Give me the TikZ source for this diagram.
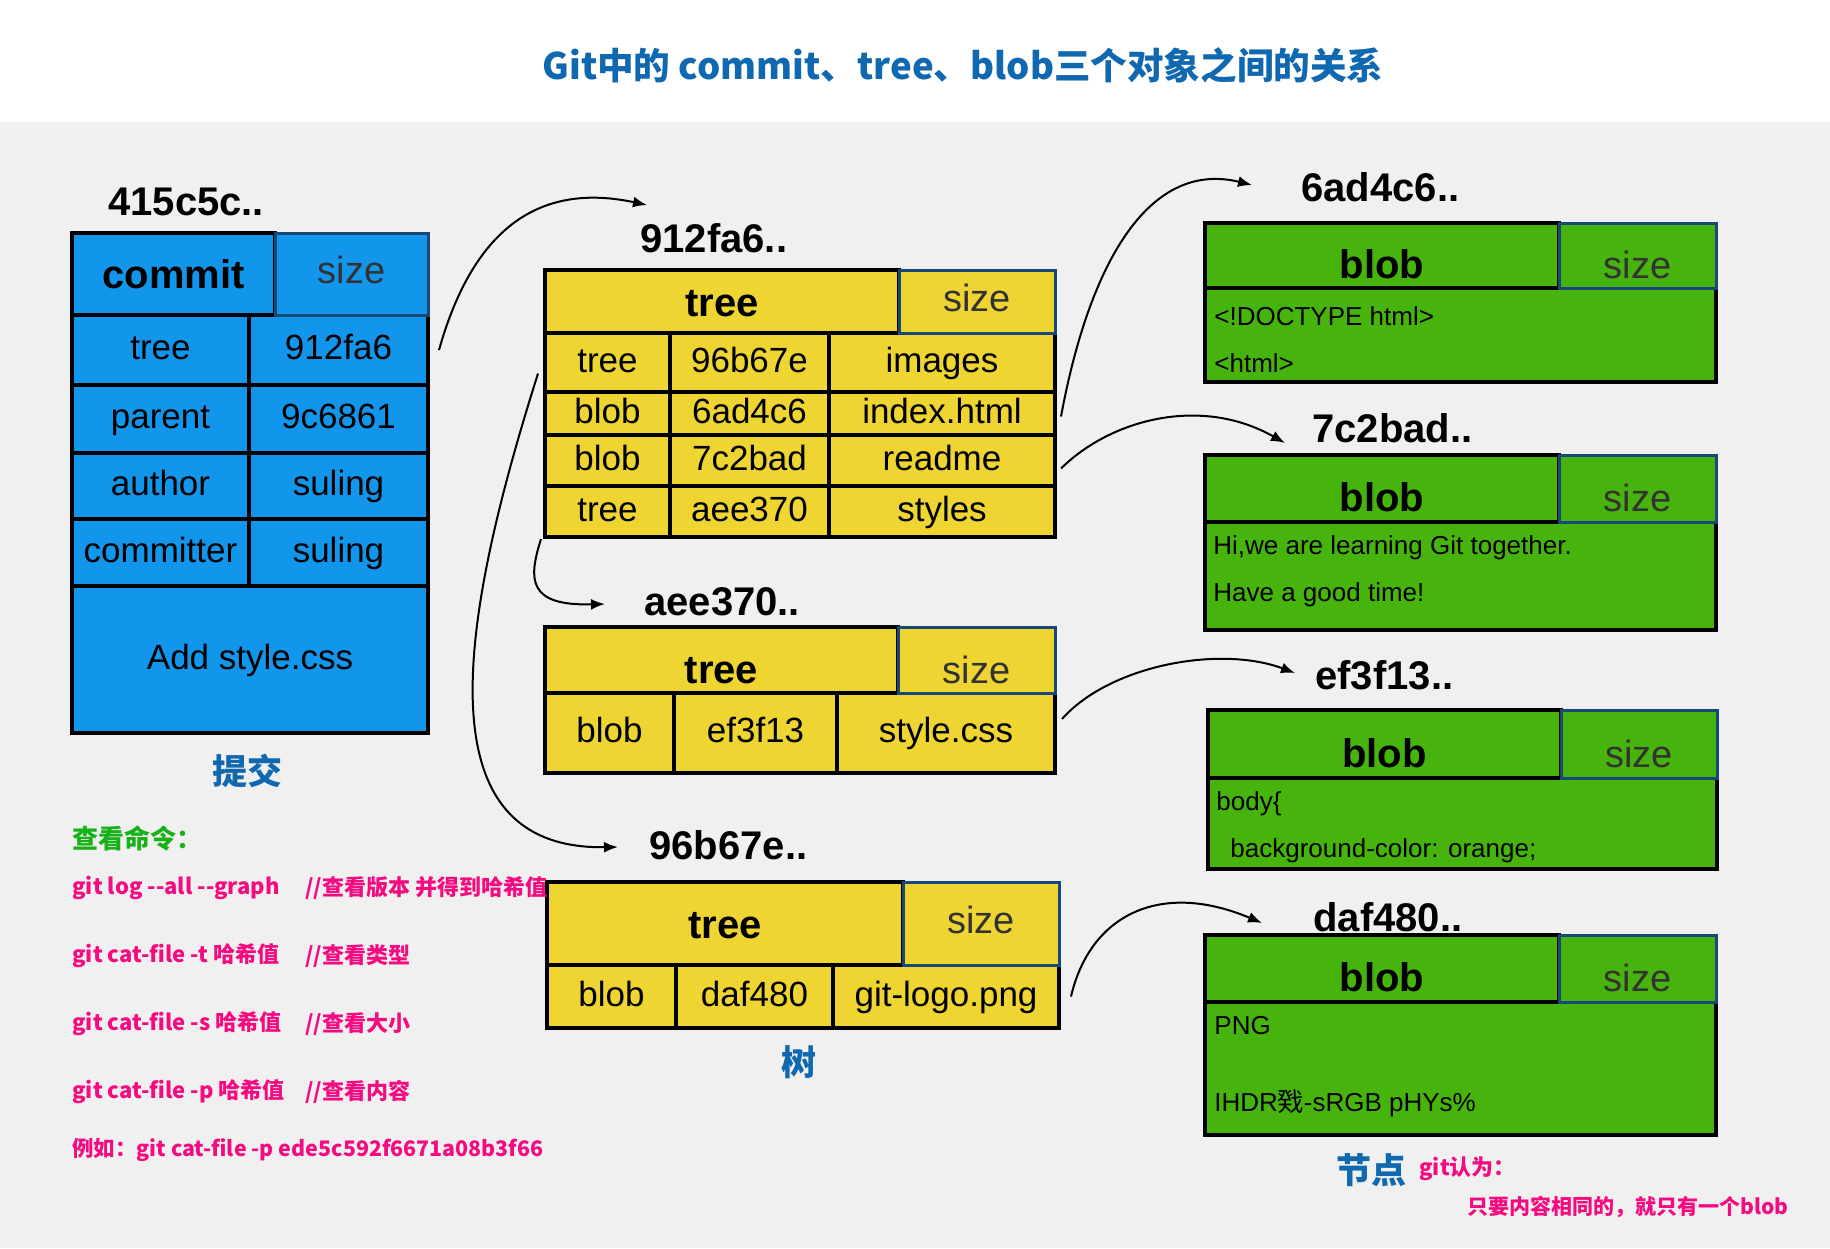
\documentclass[tikz,border=0pt]{standalone}
\usepackage{fontspec}
\setmainfont{Liberation Sans}
\newfontfamily\cjk{Noto Sans CJK SC}
\usetikzlibrary{arrows.meta,positioning,calc}

\definecolor{commitblue}{RGB}{18,150,236}
\definecolor{treeyellow}{RGB}{238,213,50}
\definecolor{blobgreen}{RGB}{70,180,12}
\definecolor{sizeblue}{RGB}{24,72,120}
\definecolor{sizegray}{RGB}{50,50,50}
\definecolor{bggray}{RGB}{240,240,240}
\definecolor{titleblue}{RGB}{16,104,176}
\definecolor{cmdpink}{RGB}{245,10,128}
\definecolor{cmdgreen}{RGB}{24,178,24}

\newcommand\twodash{-\kern0pt-}

\begin{document}
\begin{tikzpicture}[
    x=0.5pt, y=-0.5pt,
    cellspan/.style n args={4}{minimum width={(#3-#1)*0.5pt}, minimum height={(#4-#2)*0.5pt}, at={({(#1+#3)/2},{(#2+#4)/2})}},
    cell/.style={draw=black, line width=2pt, inner sep=0pt, text height=13pt, text depth=3.5pt, font=\fontsize{17.5}{20}\selectfont},
    ccell/.style={cell, fill=commitblue},
    tcell/.style={cell, fill=treeyellow},
    bcell/.style={cell, fill=blobgreen},
    head/.style={font=\bfseries\fontsize{20}{24}\selectfont, text height=14.5pt, text depth=0pt},
    sizecell/.style={draw=sizeblue, line width=1.5pt, text=sizegray, font=\fontsize{19}{22}\selectfont},
    low/.style={text height=23pt, text depth=0pt},
    hash/.style={font=\bfseries\fontsize{20}{24}\selectfont, inner sep=0pt, anchor=west},
    content/.style={font=\fontsize{13}{15}\selectfont, inner sep=0pt, anchor=west},
    cmd/.style={font=\cjk\bfseries\fontsize{11}{13}\selectfont, text=cmdpink, inner sep=0pt, anchor=west},
    part/.style={font=\cjk\bfseries\fontsize{17.5}{20}\selectfont, text=titleblue, inner sep=0pt},
    arr/.style={-{Latex[length=7pt,width=5.5pt]}, line width=1pt}
]
\useasboundingbox (0,0) rectangle (1830,1248);
\fill[white] (0,0) rectangle (1830,1248);
\fill[bggray] (0,122) rectangle (1830,1248);

\node[font=\cjk\bfseries\fontsize{18.3}{22}\selectfont, text=titleblue] (title) at (963,65) {Git中的 commit、tree、blob三个对象之间的关系};

% commit
\node[hash] (l415) at (108,202) {415c5c..};
\node[ccell, head, cellspan={72}{233}{275}{315}] (chead) {commit};
\foreach \k/\f/\v/\ya/\yb in {1/tree/912fa6/315/385, 2/parent/9c6861/385/453, 3/author/suling/453/519, 4/committer/suling/519/586} {
  \node[ccell, cellspan={72}{\ya}{249}{\yb}] (ck\k) {\f};
  \node[ccell, cellspan={249}{\ya}{428}{\yb}] (cv\k) {\v};
}
\node[ccell, cellspan={72}{586}{428}{733}] (cmsg) {Add style.css};
\node[ccell, sizecell, cellspan={275}{233}{428}{315}] (csize) {size};
\node[part] (pcommit) at (247,771) {提交};

% tree 912fa6
\node[hash] (l912) at (640,238) {912fa6..};
\node[tcell, head, cellspan={545}{270}{899}{333}] (t1head) {tree};
\foreach \k/\a/\b/\c/\ya/\yb in {1/tree/96b67e/images/333/392, 2/blob/6ad4c6/index.html/392/435, 3/blob/7c2bad/readme/435/486, 4/tree/aee370/styles/486/537} {
  \node[tcell, cellspan={545}{\ya}{670}{\yb}] (t1a\k) {\a};
  \node[tcell, cellspan={670}{\ya}{829}{\yb}] (t1b\k) {\b};
  \node[tcell, cellspan={829}{\ya}{1055}{\yb}] (t1c\k) {\c};
}
\node[tcell, sizecell, cellspan={899}{270}{1055}{333}] (t1size) {size};

% tree aee370
\node[hash] (laee) at (644,602) {aee370..};
\node[tcell, head, low, cellspan={545}{627}{898}{693}] (t2head) {tree};
\node[tcell, cellspan={545}{693}{674}{773}] (t2a) {blob};
\node[tcell, cellspan={674}{693}{837}{773}] (t2b) {ef3f13};
\node[tcell, cellspan={837}{693}{1055}{773}] (t2c) {style.css};
\node[tcell, sizecell, low, cellspan={898}{627}{1055}{693}] (t2size) {size};

% tree 96b67e
\node[hash] (l96b) at (649,845) {96b67e..};
\node[tcell, head, cellspan={547}{882}{903}{965}] (t3head) {tree};
\node[tcell, cellspan={547}{965}{676}{1028}] (t3a) {blob};
\node[tcell, cellspan={676}{965}{833}{1028}] (t3b) {daf480};
\node[tcell, cellspan={833}{965}{1059}{1028}] (t3c) {git-logo.png};
\node[tcell, sizecell, cellspan={903}{882}{1059}{965}] (t3size) {size};
\node[part] (ptree) at (799,1062) {树};

% blobs
\foreach \n/\h/\xa/\xs/\xb/\ya/\yb/\yc/\lx/\ly in {
    6ad/6ad4c6/1205/1559/1716/223/288/382/1301/187,
    7c2/7c2bad/1205/1559/1716/455/522/630/1312/428,
    ef3/ef3f13/1208/1561/1717/710/778/869/1315/675,
    daf/daf480/1205/1559/1716/935/1002/1135/1313/917} {
  \node[hash] (l\n) at (\lx,\ly) {\h..};
  \node[bcell, head, low, cellspan={\xa}{\ya}{\xs}{\yb}] (bh\n) {blob};
  \node[bcell, cellspan={\xa}{\yb}{\xb}{\yc}] (bc\n) {};
  \node[bcell, sizecell, low, cellspan={\xs}{\ya}{\xb}{\yb}] (bs\n) {size};
}
\node[content] (bt6ad1) at (1214,316) {<!DOCTYPE html>};
\node[content] (bt6ad2) at (1214,363) {<html>};
\node[content] (bt7c21) at (1213,548) {Hi,we are learning Git together.};
\node[content] (bt7c22) at (1213,595) {Have a good time!};
\node[content] (btef31) at (1216,804) {body\{};
\node[content] (btef32) at (1230,851) {background-color: orange;};
\node[content] (btdaf1) at (1214,1026) {PNG};
\node[content] (btdaf2) at (1214,1103) {IHDR{\cjk 戣}-sRGB pHYs\%};
\node[part] (pnode) at (1371,1170) {节点};
\node[cmd] (gitsay) at (1419,1169) {git认为：};
\node[cmd, font=\cjk\bfseries\fontsize{10.5}{13}\selectfont] (gitrule) at (1467,1207) {只要内容相同的，就只有一个blob};

% commands
\node[cmd, font=\cjk\bfseries\fontsize{13}{15}\selectfont, text=cmdgreen] (cmdhead) at (72,838) {查看命令：};
\foreach \k/\c/\m/\y in {1/git log \twodash all \twodash graph/查看版本 并得到哈希值/888, 2/git cat-file -t 哈希值/查看类型/956, 3/git cat-file -s 哈希值/查看大小/1024, 4/git cat-file -p 哈希值/查看内容/1092} {
  \node[cmd] (cmd\k) at (72,\y) {\c};
  \node[cmd] (note\k) at (305,\y) {//\m};
}
\node[cmd, font=\cjk\bfseries\fontsize{10.7}{13}\selectfont] (cmdeg) at (72,1150) {例如：git cat-file -p ede5c592f6671a08b3f66};

% links
\draw[arr] ($(cv1.east)+(9,0)$) .. controls (470,240) and (530,180) .. ($(l912.west)+(7,-33)$);
\draw[arr] ($(t1c2.east)+(4,3)$) .. controls (1090,260) and (1150,160) .. ($(l6ad.west)+(-49,-2)$);
\draw[arr] ($(t1c3.east)+(4,8)$) .. controls (1110,420) and (1200,395) .. ($(l7c2.west)+(-27,15)$);
\draw[arr] ($(t1a4.south west)+(-2,0)$) .. controls (528,580) and (528,606) .. ($(laee.west)+(-39,2)$);
\draw[arr] ($(t1a1.west)+(-5,11)$) .. controls (460,620) and (420,850) .. ($(l96b.west)+(-31,2)$);
\draw[arr] ($(t2c.east)+(5,-14)$) .. controls (1110,665) and (1220,645) .. ($(lef3.west)+(-20,-2)$);
\draw[arr] ($(t3c.east)+(10,0)$) .. controls (1090,915) and (1160,880) .. ($(ldaf.west)+(-51,6)$);
\end{tikzpicture}
\end{document}
